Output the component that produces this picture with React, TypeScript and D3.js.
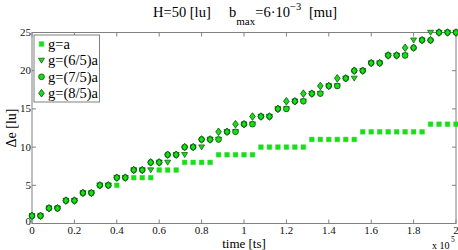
import * as d3 from 'd3';

// time steps (ts)
const times = [
  0, 4000, 8000, 12000, 16000, 20000, 24000, 28000, 32000, 36000,
  40000, 44000, 48000, 52000, 56000, 60000, 64000, 68000, 72000, 76000,
  80000, 84000, 88000, 92000, 96000, 100000, 104000, 108000, 112000, 116000,
  120000, 124000, 128000, 132000, 136000, 140000, 144000, 148000, 152000, 156000,
  160000, 164000, 168000, 172000, 176000, 180000, 184000, 188000, 192000, 196000,
  200000,
];

const gA = [
  1, 1, 2, 2, 3, 3, 4, 4, 5, 5,
  5, 6, 6, 6, 6, 7, 7, 7, 8, 8,
  8, 8, 9, 9, 9, 9, 9, 10, 10, 10,
  10, 10, 10, 11, 11, 11, 11, 11, 11, 12,
  12, 12, 12, 12, 12, 12, 12, 13, 13, 13,
  13,
];
const g65 = [
  1, 1, 2, 2, 3, 3, 4, 4, 5, 5,
  6, 6, 7, 7, 7, 8, 8, 9, 9, 10,
  10, 11, 11, 12, 12, 13, 13, 14, 14, 15,
  15, 16, 16, 17, 17, 18, 18, 19, 19, 20,
  21, 21, 22, 22, 22, 24, 24, 25, 25, 25,
  25,
];
const g75 = [
  1, 1, 2, 2, 3, 3, 4, 4, 5, 5,
  6, 6, 7, 7, 8, 8, 9, 9, 10, 10,
  11, 11, 11, 12, 12, 13, 13, 14, 14, 15,
  15, 16, 16, 17, 17, 18, 18, 19, 20, 20,
  21, 21, 22, 22, 22, 23, 24, 24, 25, 25,
  25,
];
const g85 = [
  1, 1, 2, 2, 3, 3, 4, 4, 5, 5,
  6, 6, 7, 7, 8, 8, 9, 9, 10, 10,
  11, 11, 12, 12, 13, 13, 14, 14, 14, 15,
  16, 16, 17, 17, 18, 18, 19, 19, 20, 20,
  21, 21, 22, 22, 23, 23, 24, 24, 25, 25,
  25,
];

const xTicks = [0, 20000, 40000, 60000, 80000, 100000, 120000, 140000, 160000, 180000, 200000];
const xTickLabels = ['0', '0.2', '0.4', '0.6', '0.8', '1', '1.2', '1.4', '1.6', '1.8', '2'];
const yTicks = [0, 5, 10, 15, 20, 25];
const legendLabels = ['g=a', 'g=(6/5)a', 'g=(7/5)a', 'g=(8/5)a'];

const W = 458;
const H = 250;
const left = 32, right = 456, top = 32.5, bottom = 223.5;
const serif = '"Liberation Serif"';
const axisCol = '#808080';
const fill = '#14e014';
const edge = '#0b4d0b';

const x = d3.scaleLinear().domain([0, 200000]).range([left, right]);
const y = d3.scaleLinear().domain([0, 25]).range([bottom, top]);

const sq = d3.symbol().type(d3.symbolSquare).size(22)();
const circ = d3.symbol().type(d3.symbolCircle).size(26)();
const tri = 'M-3,-2.2L3,-2.2L0,2.8Z';
const dia = 'M0,-3.8L2.8,0L0,3.8L-2.8,0Z';

function Marker({ kind, cx, cy }: { kind: number; cx: number; cy: number }) {
  const t = `translate(${cx},${cy})`;
  if (kind === 0) return <path d={sq} transform={t} fill={fill} stroke="#3ad83a" strokeWidth={0.5} />;
  if (kind === 1) return <path d={tri} transform={t} fill={fill} stroke={edge} strokeWidth={0.7} />;
  if (kind === 2) return <path d={circ} transform={t} fill={fill} stroke={edge} strokeWidth={0.8} />;
  return <path d={dia} transform={t} fill={fill} stroke={edge} strokeWidth={0.8} />;
}

function T(props: any) {
  return <text {...props} style={{ fontFamily: serif }} />;
}

export default function App() {
  const series = [gA, g65, g75, g85];
  return (
    <svg width={W} height={H} style={{ position: 'absolute', left: 0, top: 0, background: '#fff' }}>
      <rect x={0} y={0} width={W} height={H} fill="#fff" />
      {/* title */}
      <T x={153} y={17} fontSize={14.5}>H=50 [lu]</T>
      <T x={229} y={17} fontSize={14.5}>
        b
        <tspan dy={8} fontSize={11}>max</tspan>
        <tspan dy={-8}>=6·10</tspan>
        <tspan dy={-7} fontSize={10.5}>−3</tspan>
      </T>
      <T x={309} y={17} fontSize={14.5}>[mu]</T>

      {/* axes box */}
      <rect x={left} y={top} width={right - left} height={bottom - top} fill="none" stroke={axisCol} strokeWidth={1} />
      {xTicks.map((t, i) => (
        <g key={'xt' + i}>
          <line x1={x(t)} x2={x(t)} y1={bottom} y2={bottom - 4} stroke={axisCol} />
          <line x1={x(t)} x2={x(t)} y1={top} y2={top + 4} stroke={axisCol} />
          <T x={x(t)} y={234} fontSize={11} textAnchor="middle" fill="#111">{xTickLabels[i]}</T>
        </g>
      ))}
      {yTicks.map((t, i) => (
        <g key={'yt' + i}>
          <line x1={left} x2={left + 4} y1={y(t)} y2={y(t)} stroke={axisCol} />
          <line x1={right} x2={right - 4} y1={y(t)} y2={y(t)} stroke={axisCol} />
          <T x={left - 1} y={y(t) + (t === 0 ? 1.5 : 3.5)} fontSize={11} textAnchor="end" fill="#111">{t}</T>
        </g>
      ))}
      <T x={244} y={247.5} fontSize={13} textAnchor="middle">time [ts]</T>
      <T x={432} y={248.5} fontSize={10}>x 10</T>
      <T x={451} y={241.5} fontSize={7.5}>5</T>
      <T transform={`translate(16,${(top + bottom) / 2}) rotate(-90)`} fontSize={14} textAnchor="middle">Δe [lu]</T>

      {/* data */}
      {series.map((s, k) => (
        <g key={'s' + k}>
          {s.map((v, i) => (
            <Marker key={i} kind={k} cx={x(times[i])} cy={y(v)} />
          ))}
        </g>
      ))}

      {/* legend */}
      <rect x={34} y={35} width={65.5} height={67} fill="#fff" stroke={axisCol} strokeWidth={1} />
      {legendLabels.map((lab, k) => {
        const ly = 44 + k * 16.4;
        return (
          <g key={'lg' + k}>
            <Marker kind={k} cx={41.5} cy={ly} />
            <T x={48} y={ly + 5} fontSize={14.5}>{lab}</T>
          </g>
        );
      })}
    </svg>
  );
}
